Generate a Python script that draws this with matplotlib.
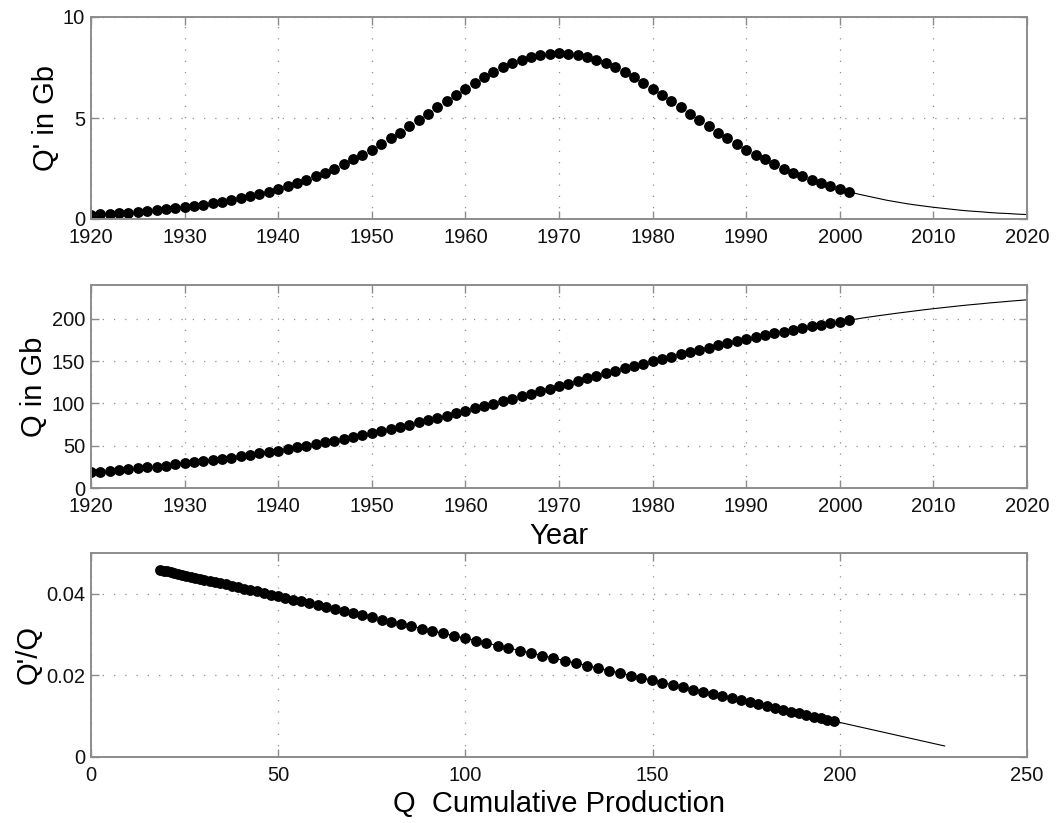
import matplotlib
matplotlib.use("Agg")
import matplotlib.pyplot as plt
import numpy as np

plt.rcParams['font.family'] = ['Liberation Sans', 'DejaVu Sans']

# ---------------- data ----------------
years = list(range(1920, 2021))
last_data_year = 2001

# Q' (annual production), 1920..2020
q_prime = [0.22, 0.24, 0.27, 0.29, 0.32, 0.36, 0.39, 0.43, 0.48, 0.53,
           0.58, 0.64, 0.70, 0.77, 0.85, 0.93, 1.03, 1.13, 1.23, 1.35,
           1.48, 1.62, 1.77, 1.94, 2.11, 2.30, 2.50, 2.72, 2.95, 3.19,
           3.44, 3.71, 3.99, 4.28, 4.58, 4.89, 5.20, 5.52, 5.83, 6.15,
           6.45, 6.74, 7.02, 7.27, 7.50, 7.71, 7.88, 8.02, 8.12, 8.18,
           8.20,
           8.18, 8.12, 8.02, 7.88, 7.71, 7.50, 7.27, 7.02, 6.74, 6.45,
           6.15, 5.83, 5.52, 5.20, 4.89, 4.58, 4.28, 3.99, 3.71, 3.44,
           3.19, 2.95, 2.72, 2.50, 2.30, 2.11, 1.94, 1.77, 1.62, 1.48,
           1.35, 1.23, 1.13, 1.03, 0.93, 0.85, 0.77, 0.70, 0.64, 0.58,
           0.53, 0.48, 0.43, 0.39, 0.36, 0.32, 0.29, 0.27, 0.24, 0.22]

# Q (cumulative production), 1920..2020
q_cum = [18.5, 19.4, 20.3, 21.3, 22.2, 23.3, 24.3, 25.4, 26.6, 27.8,
         29.0, 30.3, 31.7, 33.1, 34.5, 36.0, 37.6, 39.2, 40.8, 42.5,
         44.3, 46.1, 48.0, 49.9, 51.9, 54.0, 56.1, 58.3, 60.5, 62.8,
         65.1, 67.5, 69.9, 72.4, 75.0, 77.6, 80.2, 82.9, 85.6, 88.4,
         91.2, 94.0, 96.9, 99.8, 102.7, 105.6, 108.6, 111.5, 114.5, 117.5,
         120.5,
         123.5, 126.5, 129.5, 132.4, 135.4, 138.3, 141.3, 144.1, 147.0, 149.8,
         152.6, 155.4, 158.1, 160.8, 163.4, 166.0, 168.6, 171.1, 173.5, 175.9,
         178.2, 180.5, 182.7, 184.9, 187.0, 189.1, 191.1, 193.0, 194.9, 196.7,
         198.5, 200.2, 201.9, 203.5, 205.0, 206.5, 207.9, 209.3, 210.7, 212.0,
         213.2, 214.4, 215.6, 216.7, 217.7, 218.8, 219.7, 220.7, 221.6, 222.5]

# Q'/Q ratio for the data years 1920..2001
ratio = [0.04588, 0.04570, 0.04551, 0.04531, 0.04511, 0.04490, 0.04468, 0.04445,
         0.04422, 0.04397, 0.04371, 0.04344, 0.04317, 0.04288, 0.04258, 0.04228,
         0.04196, 0.04163, 0.04128, 0.04093, 0.04057, 0.04019, 0.03980, 0.03940,
         0.03899, 0.03857, 0.03813, 0.03768, 0.03722, 0.03675, 0.03627, 0.03578,
         0.03528, 0.03476, 0.03424, 0.03370, 0.03316, 0.03261, 0.03205, 0.03148,
         0.03090, 0.03032, 0.02972, 0.02913, 0.02853, 0.02792, 0.02731, 0.02670,
         0.02608, 0.02547, 0.02485, 0.02423, 0.02362, 0.02300, 0.02239, 0.02178,
         0.02117, 0.02057, 0.01997, 0.01938, 0.01880, 0.01822, 0.01765, 0.01709,
         0.01654, 0.01599, 0.01546, 0.01493, 0.01442, 0.01392, 0.01342, 0.01294,
         0.01247, 0.01202, 0.01157, 0.01113, 0.01071, 0.01030, 0.00990, 0.00951,
         0.00913, 0.00877]

# linear fit line for Q'/Q vs Q
fit_q = [18.5, 228.0]
fit_ratio = [0.0459, 0.0027]

# ---------------- styling ----------------
W, H = 1057, 823
fig = plt.figure(figsize=(W / 100, H / 100), dpi=100)

def px_axes(left, right, top, bottom):
    return fig.add_axes([left / W, 1 - bottom / H, (right - left) / W, (bottom - top) / H])

spine_col = '#8c8c8c'
tick_fs = 14.5
label_fs = 21
msize = 7.8

def style(ax):
    for s in ax.spines.values():
        s.set_color(spine_col)
        s.set_linewidth(1.4)
    ax.tick_params(direction='in', length=6, width=1.0, color=spine_col,
                   top=True, right=True, labelsize=tick_fs, labelcolor='#111111')
    ax.tick_params(axis='x', pad=6.7)
    ax.tick_params(axis='y', pad=4.3)
    ax.grid(True, linestyle=(0, (1, 8)), color='#8f8f8f', linewidth=0.9)
    ax.set_axisbelow(True)

n_data = last_data_year - years[0] + 1
yr = np.array(years)

# Top: Q'
ax1 = px_axes(91, 1027, 17, 219)
ax1.plot(yr[n_data - 1:], np.array(q_prime)[n_data - 1:], color='black', linewidth=0.8)
ax1.plot(yr[:n_data], np.array(q_prime)[:n_data], 'o', color='black', markersize=msize,
         markeredgewidth=0)
ax1.set_xlim(1920, 2020)
ax1.set_ylim(0, 10)
ax1.set_xticks(range(1920, 2021, 10))
ax1.set_yticks([0, 5, 10])
ax1.set_ylabel("Q' in Gb", fontsize=label_fs)
ax1.yaxis.set_label_coords(-0.033, 0.5)
style(ax1)

# Middle: Q
ax2 = px_axes(91, 1027, 285, 488)
ax2.plot(yr[n_data - 1:], np.array(q_cum)[n_data - 1:], color='black', linewidth=0.8)
ax2.plot(yr[:n_data], np.array(q_cum)[:n_data], 'o', color='black', markersize=msize,
         markeredgewidth=0)
ax2.set_xlim(1920, 2020)
ax2.set_ylim(0, 240)
ax2.set_xticks(range(1920, 2021, 10))
ax2.set_yticks([0, 50, 100, 150, 200])
ax2.set_ylabel("Q in Gb", fontsize=label_fs)
ax2.yaxis.set_label_coords(-0.046, 0.5)
ax2.set_xlabel("Year", fontsize=label_fs)
ax2.xaxis.set_label_coords(0.5, -0.167)
style(ax2)

# Bottom: Q'/Q vs Q
ax3 = px_axes(91, 1027, 553, 757)
ax3.plot(fit_q, fit_ratio, color='black', linewidth=0.8)
ax3.plot(np.array(q_cum)[:n_data], ratio, 'o', color='black', markersize=msize,
         markeredgewidth=0)
ax3.set_xlim(0, 250)
ax3.set_ylim(0, 0.05)
ax3.set_xticks([0, 50, 100, 150, 200, 250])
ax3.set_yticks([0, 0.02, 0.04])
ax3.set_yticklabels(['0', '0.02', '0.04'])
ax3.set_ylabel("Q'/Q", fontsize=label_fs)
ax3.yaxis.set_label_coords(-0.052, 0.5)
ax3.set_xlabel("Q  Cumulative Production", fontsize=label_fs)
ax3.xaxis.set_label_coords(0.5, -0.163)
style(ax3)

fig.savefig("out.png", dpi=100)
